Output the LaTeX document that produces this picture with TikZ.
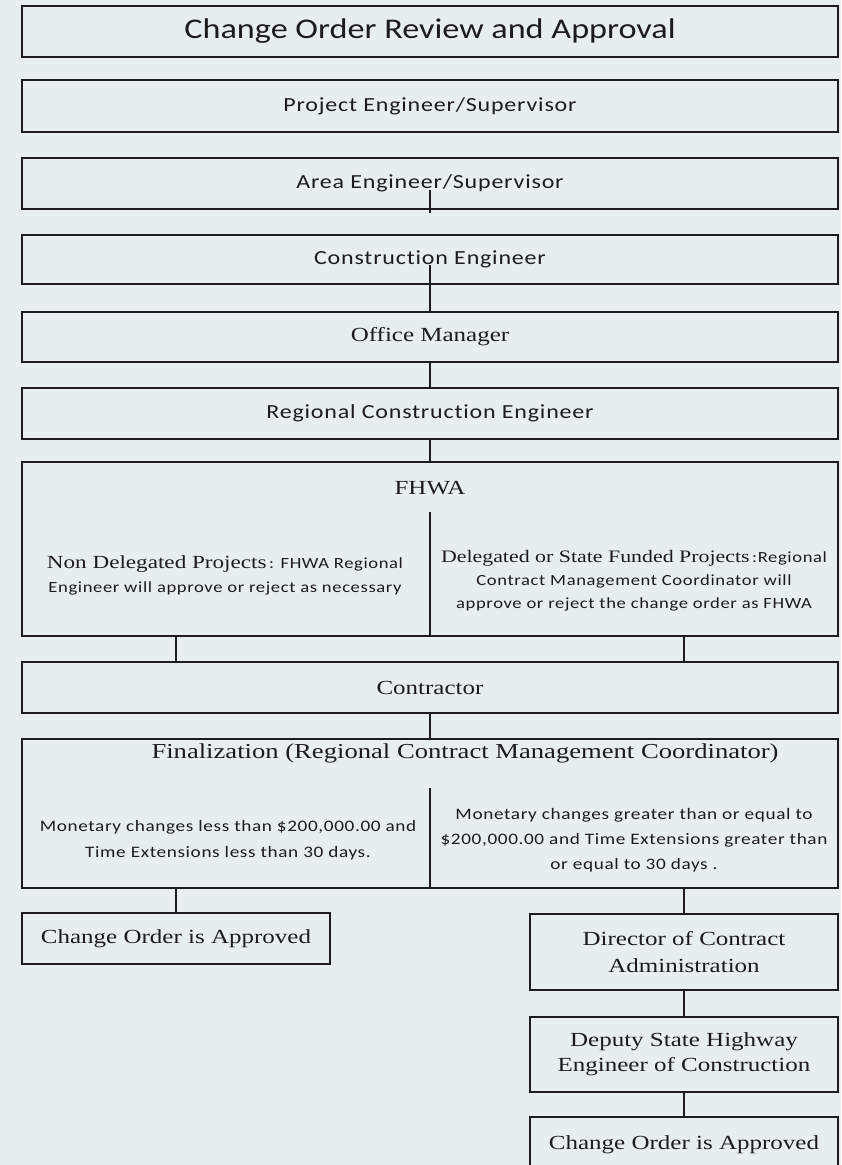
\documentclass[tikz,border=0pt]{standalone}
\usepackage{fontspec}
\setmainfont[FakeStretch=1.25]{Liberation Serif}
\newfontfamily\titlefont[FakeStretch=1.2]{Carlito}
\newfontfamily\boxsans[FakeStretch=1.2,LetterSpace=4,Ligatures=NoCommon]{Carlito}
\definecolor{pagebg}{RGB}{231,238,240}
\definecolor{ink}{RGB}{28,28,28}

\begin{document}
\begin{tikzpicture}[x=1pt,y=-1pt,
    box/.style={draw=ink,line width=1.8pt,inner sep=0pt,minimum width=816pt,minimum height=51pt,align=center,text=ink},
    halfbox/.style={draw=ink,line width=1.8pt,inner sep=0pt,minimum width=308pt,align=center,text=ink},
    plain/.style={inner sep=0pt,align=center,text=ink},
    sanslabel/.style={font=\boxsans\fontsize{20}{22}\selectfont},
    seriflabel/.style={font=\fontsize{20}{27}\selectfont},
    smalltext/.style={font=\boxsans\fontsize{16}{25}\selectfont}]
      \fill[pagebg] (0,0) rectangle (841,1165);
      \useasboundingbox (0,0) rectangle (841,1165);
      \draw
        (430,31.5) node[box,font=\titlefont\fontsize{28.5}{30}\selectfont] (title){Change Order Review and Approval}
        (430,106) node[box,minimum height=52pt,sanslabel] (proj){Project Engineer/Supervisor}
        (430,183.5) node[box,sanslabel] (area){Area Engineer/Supervisor}
        (430,259.5) node[box,minimum height=49pt,sanslabel] (cons){Construction Engineer}
        (430,337) node[box,minimum height=50pt,seriflabel] (office){Office Manager}
        (430,413.5) node[box,sanslabel] (regional){Regional Construction Engineer}
        (430,549) node[box,minimum height=174pt] (fhwa){}
        (430,687.5) node[box,seriflabel] (contractor){Contractor}
        (430,813.5) node[box,minimum height=149pt] (final){}
        (176,938.5) node[halfbox,minimum height=51pt,seriflabel] (leftapp){Change Order is Approved}
        (684,952) node[halfbox,minimum height=76pt,seriflabel] (director){Director of Contract\\Administration}
        (684,1054.5) node[halfbox,minimum height=75pt,seriflabel,font=\fontsize{20}{25}\selectfont] (deputy){Deputy State Highway\\Engineer of Construction}
        (684,1145) node[halfbox,minimum height=56pt,seriflabel] (rightapp){Change Order is Approved};
      \draw
        (430,488) node[plain,seriflabel] (fhwatitle){FHWA}
        (225,575) node[plain,smalltext,font=\boxsans\fontsize{15.5}{24}\selectfont] (fhwaleft){{\rmfamily\fontsize{18.5}{24}\selectfont Non Delegated Projects}\,: FHWA Regional\\Engineer will approve or reject as necessary}
        (634,581) node[plain,smalltext,font=\boxsans\fontsize{15.5}{23}\selectfont] (fhwaright){{\rmfamily\fontsize{17.5}{23}\selectfont Delegated or State Funded Projects}\,:Regional\\Contract Management Coordinator will\\approve or reject the change order as FHWA}
        (465,753) node[plain,seriflabel,font=\fontsize{21.3}{27}\selectfont] (finaltitle){Finalization (Regional Contract Management Coordinator)}
        (228,840) node[plain,smalltext,font=\boxsans\fontsize{16}{26}\selectfont] (finalleft){Monetary changes less than \$200,000.00 and\\Time Extensions less than 30 days.}
        (634,840) node[plain,smalltext] (finalright){Monetary changes greater than or equal to\\\$200,000.00 and Time Extensions greater than\\or equal to 30 days .};
      \coordinate (areastub) at (430,190);
      \coordinate (areatail) at (430,213);
      \coordinate (constub) at (430,265);
      \coordinate (fhwadiv) at (430,512);
      \coordinate (finaldiv) at (430,788);
      \begin{scope}[-,draw=ink,line width=1.8pt]
        \draw (areastub) to (areatail);
        \draw (constub) to (office.north);
        \draw (office) to (regional);
        \draw (regional) to (fhwa);
        \draw (fhwadiv) to (fhwa.south);
        \draw (fhwa.south -| leftapp) to (contractor.north -| leftapp);
        \draw (fhwa.south -| director) to (contractor.north -| director);
        \draw (contractor) to (final);
        \draw (finaldiv) to (final.south);
        \draw (final.south -| leftapp) to (leftapp);
        \draw (final.south -| director) to (director);
        \draw (director) to (deputy);
        \draw (deputy) to (rightapp);
      \end{scope}
    \end{tikzpicture}
\end{document}
